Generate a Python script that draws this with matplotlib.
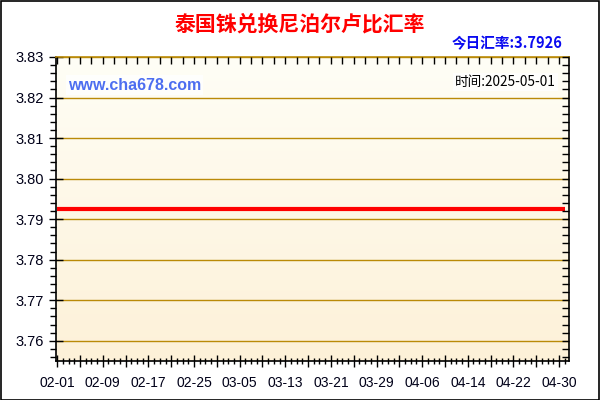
import numpy as np
import pandas as pd
import matplotlib
matplotlib.use("Agg")
import matplotlib.pyplot as plt
import matplotlib.dates as mdates
from matplotlib.colors import LinearSegmentedColormap
from matplotlib.patches import Rectangle

plt.rcParams['font.family'] = ['Liberation Sans', 'Noto Sans CJK SC', 'DejaVu Sans']

# ---- data ----
title = "泰国铢兑换尼泊尔卢比汇率"
today_rate_label = "今日汇率:3.7926"
time_label = "时间:2025-05-01"
site_label = "www.cha678.com"
dates = pd.date_range("2025-02-01", "2025-05-01", freq="D")
rates = [3.7926] * len(dates)
x_tick_labels = ["02-01", "02-09", "02-17", "02-25", "03-05", "03-13",
                 "03-21", "03-29", "04-06", "04-14", "04-22", "04-30"]
y_ticks = [3.76, 3.77, 3.78, 3.79, 3.80, 3.81, 3.82, 3.83]
y_min, y_max = 3.755, 3.83

W, H = 600, 400
fig = plt.figure(figsize=(6, 4), dpi=100)
fig.patch.set_facecolor("white")
ax = fig.add_axes([56 / W, 1 - 361 / H, (569 - 56) / W, (361 - 57) / H])

# gradient background
cmap = LinearSegmentedColormap.from_list("bg", ["#FDF1D8", "#FFFEF6"])
grad = np.linspace(0, 1, 256).reshape(-1, 1)
ax.imshow(grad, extent=[0, 1, 0, 1], transform=ax.transAxes, aspect="auto",
          cmap=cmap, origin="lower", zorder=0)

xnum = mdates.date2num(dates)
grid_c = "#BA8A08"
for yv in y_ticks:
    ax.axhline(yv, color=grid_c, lw=1.0, zorder=1)

ax.plot(xnum, rates, color="#FF0000", lw=3, zorder=3, solid_capstyle="butt")

ax.set_xlim(xnum[0] - 0.2, xnum[-1] + 0.75)
ax.set_ylim(y_min, y_max)

# x ticks: long every 4 days, labels every 8, minor daily
major_pos = xnum[::4][:23]
labels = []
for i, _ in enumerate(major_pos):
    labels.append(x_tick_labels[i // 2] if i % 2 == 0 else "")
ax.set_xticks(major_pos)
ax.set_xticklabels(labels)
ax.set_xticks(xnum, minor=True)

ax.set_yticks(y_ticks)
ax.set_yticklabels([f"{v:.2f}" for v in y_ticks])
ax.set_yticks(np.arange(3.756, 3.8301, 0.002), minor=True)

tick_c = "#000000"
ax.tick_params(axis="x", which="major", direction="inout", length=8, width=1,
               color=tick_c, labelsize=10, labelcolor="#000018", pad=7)
ax.tick_params(axis="x", which="minor", direction="inout", length=5, width=1, color=tick_c)
ax.tick_params(axis="y", which="major", direction="inout", length=10, width=1,
               color=tick_c, labelsize=10.5, labelcolor="#000018", pad=4)
ax.tick_params(axis="y", which="minor", direction="out", length=4, width=1, color=tick_c)

for s in ["left", "bottom", "right"]:
    ax.spines[s].set_color("black")
    ax.spines[s].set_linewidth(1.2)
ax.spines["top"].set_color(grid_c)
ax.spines["top"].set_linewidth(1.2)

# top ticks (inward, every 2 days)
axt = ax.twiny()
axt.set_xlim(ax.get_xlim())
axt.set_xticks(xnum[::2])
axt.set_xticklabels([])
axt.tick_params(axis="x", direction="in", length=5, width=1, color="black")
for s in axt.spines.values():
    s.set_visible(False)

# right ticks (inward)
axr = ax.twinx()
axr.set_ylim(ax.get_ylim())
axr.set_yticks(np.arange(3.756, 3.8301, 0.002))
axr.set_yticklabels([])
axr.tick_params(axis="y", direction="in", length=5, width=1, color="black")
for s in axr.spines.values():
    s.set_visible(False)

# texts
fig.text(300 / W, 1 - 24 / H, title, color="#FF0000", fontsize=15, fontweight="bold",
         family=["Noto Sans CJK SC"], ha="center", va="center")
fig.text(563 / W, 1 - 43 / H, today_rate_label, color="#0A0AF0", fontsize=10.5,
         fontweight="bold", family=["Noto Sans CJK SC"], ha="right", va="center")
ax.text(68 / W, 1 - 85 / H, site_label, transform=fig.transFigure, color="#4D6EF0",
        fontsize=11.5, fontweight="bold", ha="left", va="center", zorder=5,
        bbox=dict(facecolor="white", edgecolor="none", pad=1.5, alpha=0.8))
ax.text(556 / W, 1 - 82 / H, time_label, transform=fig.transFigure, color="#000000",
        fontsize=9.8, family=["Noto Sans CJK SC"], ha="right", va="center", zorder=5,
        bbox=dict(facecolor="white", edgecolor="none", pad=1.5, alpha=0.8))

# outer border
fig.add_artist(Rectangle((0.5 / W, 0.5 / H), 1 - 1.5 / W, 1 - 1.5 / H,
                         transform=fig.transFigure, fill=False, edgecolor="black", lw=1.2))

fig.savefig("out.png", dpi=100)
